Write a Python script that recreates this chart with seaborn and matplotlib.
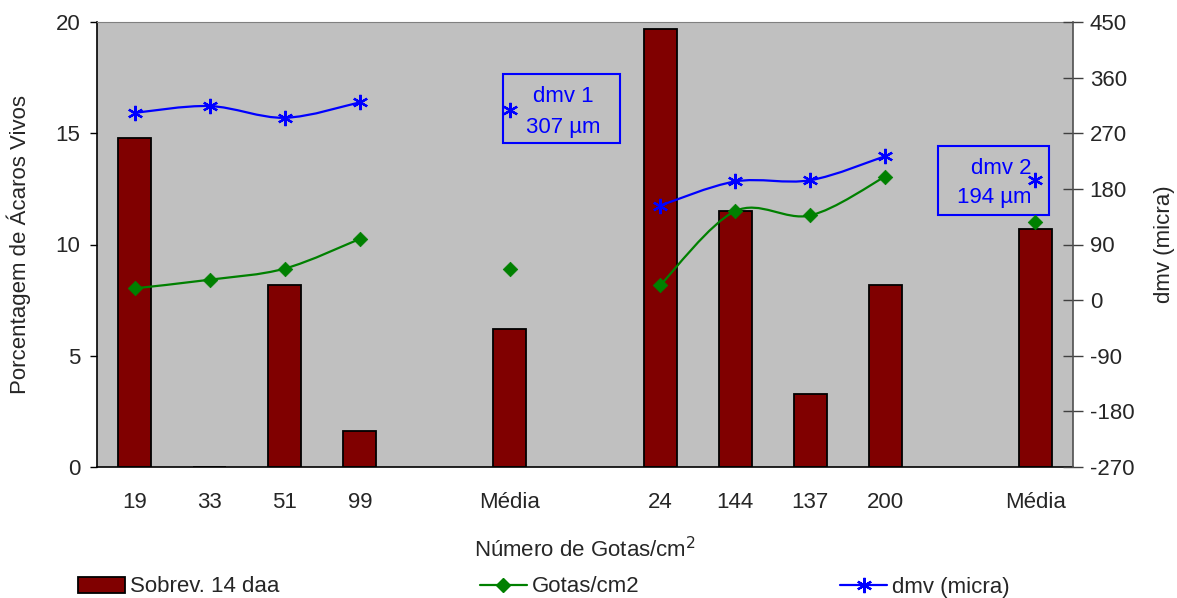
import numpy as np
import pandas as pd
import matplotlib
matplotlib.use("Agg")
import matplotlib.pyplot as plt
from matplotlib.path import Path
from matplotlib.patches import PathPatch, Rectangle
from matplotlib.lines import Line2D
from matplotlib.ticker import FixedLocator, NullFormatter
import seaborn as sns

# ---- data ----
categories = ["19", "33", "51", "99", "Média", "24", "144", "137", "200", "Média"]
groups = [1, 1, 1, 1, 1, 2, 2, 2, 2, 2]
sobrev = [14.8, 0.0, 8.2, 1.6, 6.2, 19.7, 11.5, 3.3, 8.2, 10.7]
gotas = [19, 33, 51, 99, 51, 24, 144, 137, 200, 126]
dmv = [303, 314, 295, 320, 307, 153, 192, 194, 233, 194]
is_mean = [False, False, False, False, True, False, False, False, False, True]

# slot order on the category axis (gaps are empty slots)
order = ["1-19", "1-33", "1-51", "1-99", "gap1", "1-Média", "gap2",
         "2-24", "2-144", "2-137", "2-200", "gap3", "2-Média"]

keys = [f"{g}-{c}" for g, c in zip(groups, categories)]
df = pd.DataFrame({"key": keys, "cat": categories, "sobrev": sobrev,
                   "gotas": gotas, "dmv": dmv, "mean": is_mean, "group": groups})
df["slot"] = [order.index(k) for k in keys]

sns.set_style("white")
plt.rcParams["font.family"] = ["Liberation Sans", "DejaVu Sans"]
plt.rcParams["axes.unicode_minus"] = False
FS = 16

fig = plt.figure(figsize=(11.77, 5.98), dpi=100)
ax = fig.add_axes([97 / 1177, 1 - 467 / 598, (1073 - 97) / 1177, (467 - 22) / 598])
ax.set_facecolor("#C0C0C0")

sns.barplot(data=df, x="key", y="sobrev", order=order, color="#800000",
            saturation=1, edgecolor="black", linewidth=1.3, width=0.44, ax=ax)

ax.set_xlim(-0.5, len(order) - 0.5)
ax.set_ylim(0, 20)
ax.set_yticks([0, 5, 10, 15, 20])
ax.tick_params(axis="y", direction="out", length=5, width=1, labelsize=FS, pad=7, color="black")

# x ticks: major at slot boundaries, labels at slot centres
ax.xaxis.set_major_locator(FixedLocator(np.arange(-0.5, len(order), 1.0)))
ax.xaxis.set_major_formatter(NullFormatter())
ax.xaxis.set_minor_locator(FixedLocator(df["slot"].tolist()))
ax.set_xticklabels(df["cat"].tolist(), minor=True)
ax.tick_params(axis="x", which="major", direction="inout", length=13, width=1, color="#404040")
ax.tick_params(axis="x", which="minor", length=0, labelsize=FS, pad=18)

ax.set_xlabel("Número de Gotas/cm$^2$", fontsize=FS, labelpad=17)
ax.set_ylabel("Porcentagem de Ácaros Vivos", fontsize=FS)
ax.yaxis.set_label_coords(-66 / 976, 0.5)

for s in ["left", "bottom"]:
    ax.spines[s].set_color("black")
    ax.spines[s].set_linewidth(1.2)
ax.spines["top"].set_color("#808080")
ax.spines["right"].set_visible(False)

# ---- secondary axis ----
ax2 = ax.twinx()
ax2.set_ylim(-270, 450)
ax2.set_yticks(np.arange(-270, 451, 90))
ax2.tick_params(axis="y", direction="inout", length=14, width=1, labelsize=FS, pad=5, color="#404040")
for s in ["left", "top", "bottom"]:
    ax2.spines[s].set_visible(False)
ax2.spines["right"].set_color("#505050")
ax2.spines["right"].set_linewidth(1.2)
ax2.set_ylabel("dmv (micra)", fontsize=FS)
ax2.yaxis.set_label_coords(1 + 81 / 976, 0.5)


def smooth_path(xs, ys):
    P = np.column_stack([xs, ys]).astype(float)
    n = len(P)
    verts = [P[0]]
    codes = [Path.MOVETO]
    for i in range(n - 1):
        p0 = P[i - 1] if i > 0 else P[i]
        p1 = P[i]
        p2 = P[i + 1]
        p3 = P[i + 2] if i + 2 < n else P[i + 1]
        c1 = p1 + (p2 - p0) / 6.0
        c2 = p2 - (p3 - p1) / 6.0
        verts += [c1, c2, p2]
        codes += [Path.CURVE4] * 3
    return Path(verts, codes)


for g in [1, 2]:
    sub = df[(df["group"] == g) & (~df["mean"])]
    for col, colr in [("gotas", "#008000"), ("dmv", "#0000FF")]:
        ax2.add_patch(PathPatch(smooth_path(sub["slot"], sub[col]), fill=False,
                                edgecolor=colr, linewidth=1.6, zorder=3))

sns.scatterplot(data=df, x="slot", y="gotas", marker="D", s=55, color="#008000",
                edgecolor="#008000", linewidth=0.5, ax=ax2, zorder=4)
ax2.plot(df["slot"], df["dmv"], linestyle="none", marker=(6, 2, 0), markersize=11,
         markeredgewidth=1.6, color="#0000FF", zorder=4)
ax2.set_xlim(-0.5, len(order) - 0.5)
ax2.set_xlabel("")

# ---- annotation boxes ----
for (x0, x1, y0, y1) in [(503, 620, 74, 143), (938, 1049, 146, 215)]:
    ax.add_patch(Rectangle(((x0 - 97) / 976, (467 - y1) / 445), (x1 - x0) / 976, (y1 - y0) / 445,
                           transform=ax.transAxes, fill=False, edgecolor="#0000FF",
                           linewidth=1.5, zorder=5, clip_on=False))
ax.text((563 - 97) / 976, (467 - 112) / 445, "dmv 1\n307 µm", transform=ax.transAxes,
        ha="center", va="center", multialignment="center", color="#0000FF",
        fontsize=FS, linespacing=1.6, zorder=6)
ax.text((994 - 97) / 976, (467 - 183) / 445, "dmv 2\n194 µm", transform=ax.transAxes,
        ha="center", va="center", multialignment="right", color="#0000FF",
        fontsize=FS, linespacing=1.5, zorder=6)

# ---- legend ----
handles = [
    Rectangle((0, 0), 1, 1, facecolor="#800000", edgecolor="black", linewidth=1.3),
    Line2D([], [], color="#008000", marker="D", markersize=7, linewidth=1.6),
    Line2D([], [], color="#0000FF", marker=(6, 2, 0), markersize=11, markeredgewidth=1.6, linewidth=1.6),
]
labels = ["Sobrev. 14 daa", "Gotas/cm2", "dmv (micra)"]
fig.legend(handles, labels, loc="center left", bbox_to_anchor=(78 / 1177, 1 - 587 / 598),
           ncol=3, frameon=False, fontsize=FS, handlelength=2.1, handletextpad=0.22,
           columnspacing=9.05, borderaxespad=0, borderpad=0)

fig.savefig("out.png", dpi=100)
